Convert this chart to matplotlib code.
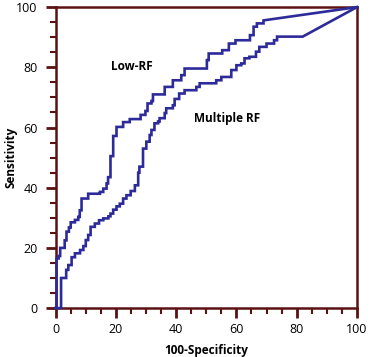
import numpy as np
import matplotlib.pyplot as plt
from matplotlib.ticker import MultipleLocator

# ROC operating points (100-specificity, sensitivity)
low_rf_x = [0, 0.3, 1.0, 1.5, 3.0, 3.6, 4.4, 5.0, 6.4, 7.5, 8.0, 8.6, 10.8, 14.7,
            15.8, 16.9, 17.4, 18.2, 19.1, 20.2, 22.4, 24.6, 28.2, 29.8, 30.5, 31.8,
            32.3, 36.2, 38.9, 41.7, 42.8, 50.2, 50.8, 55.3, 57.5, 59.7, 64.5, 65.7,
            66.8, 69.0]
low_rf_y = [0, 16.5, 17.3, 20.0, 22.5, 25.4, 26.8, 28.5, 29.3, 30.3, 32.5, 36.4, 38.0, 38.6,
            39.7, 41.4, 43.5, 50.5, 57.2, 60.2, 61.8, 62.8, 64.2, 65.5, 68.0, 68.8,
            71.0, 73.5, 75.7, 77.4, 79.6, 82.4, 84.6, 85.7, 87.9, 89.0, 90.7, 93.5,
            94.6, 95.6]

multi_rf_x = [0, 1.8, 3.5, 4.2, 5.3, 6.4, 8.1, 9.2, 10.0, 10.8, 11.6, 13.0, 14.4, 15.8,
              17.5, 18.2, 19.1, 20.2, 21.3, 22.4, 23.5, 24.9, 26.3, 27.4, 27.8, 29.0,
              30.1, 31.2, 31.8, 32.8, 34.0, 34.5, 36.2, 36.7, 38.9, 39.5, 41.0, 42.8,
              46.7, 47.8, 53.3, 55.0, 58.3, 60.0, 61.6, 62.7, 64.3, 66.5, 67.6, 70.0,
              72.5, 73.5, 82.0]
multi_rf_y = [0, 10.0, 12.7, 14.3, 16.9, 18.2, 19.3, 20.6, 22.6, 24.3, 27.0, 28.1, 29.2, 29.8,
              30.5, 31.4, 32.7, 33.8, 34.7, 36.4, 37.5, 38.9, 40.8, 45.0, 47.0, 53.0,
              55.3, 57.5, 59.2, 61.4, 62.0, 63.1, 64.8, 66.4, 67.4, 69.5, 71.3, 72.4,
              73.5, 74.7, 75.7, 76.8, 79.1, 80.7, 81.3, 83.0, 83.5, 85.2, 86.8, 87.9,
              89.0, 90.2, 90.2]

labels = ["Low-RF", "Multiple RF"]
ticks = [0, 20, 40, 60, 80, 100]

line_color = "#2d2b9a"
axis_color = "#5a1212"


def roc_path(x, y):
    # horizontal then vertical between operating points, then straight to (100, 100)
    px, py = [x[0]], [y[0]]
    for i in range(1, len(x)):
        px += [x[i], x[i]]
        py += [y[i - 1], y[i]]
    px.append(100)
    py.append(100)
    return px, py


plt.rcParams['font.family'] = ['Open Sans', 'DejaVu Sans']

fig = plt.figure(figsize=(3.71, 3.57), dpi=100)
ax = fig.add_axes([0.150, 0.137, 0.812, 0.843])

for xs, ys in [(low_rf_x, low_rf_y), (multi_rf_x, multi_rf_y)]:
    px, py = roc_path(xs, ys)
    ax.plot(px, py, color=line_color, lw=1.9, solid_joinstyle="miter", clip_on=False, zorder=3)

ax.text(25.4, 80.2, labels[0], ha="center", va="center", fontsize=8.5, fontweight="bold")
ax.text(56.8, 63.0, labels[1], ha="center", va="center", fontsize=8.5, fontweight="bold")

ax.set_xlim(0, 100)
ax.set_ylim(0, 100)
ax.set_xticks(ticks)
ax.set_yticks(ticks)
ax.xaxis.set_minor_locator(MultipleLocator(5))
ax.yaxis.set_minor_locator(MultipleLocator(5))

for s in ax.spines.values():
    s.set_color(axis_color)
    s.set_linewidth(1.8)

ax.tick_params(which="major", direction="out", length=7, width=2, color=axis_color,
               labelsize=9, top=False, right=False)
ax.tick_params(which="minor", direction="out", length=4, width=1.5, color=axis_color,
               top=False, right=False)
ax.tick_params(axis="x", which="major", pad=4)
ax.tick_params(axis="y", which="major", pad=6)

ax.set_xlabel("100-Specificity", fontsize=8.5, fontweight="bold")
ax.set_ylabel("Sensitivity", fontsize=8.5, fontweight="bold")
ax.xaxis.set_label_coords(0.5, -0.118)
ax.yaxis.set_label_coords(-0.128, 0.5)

fig.savefig("out.png", dpi=100)
